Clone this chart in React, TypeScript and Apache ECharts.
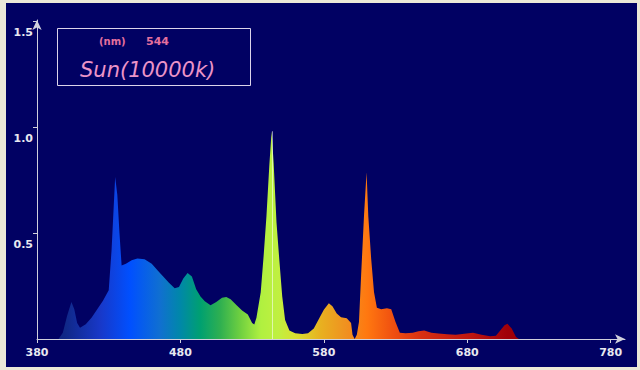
import React, { useEffect, useRef } from "react";
import * as echarts from "echarts";

// Wavelength samples (nm) and relative intensity
const wavelengths = [
  395, 398, 401, 404, 406, 408, 410, 414, 418, 422, 426, 430, 432, 434.5, 436, 437.5, 439,
  442, 446, 450, 455, 460, 464, 468, 472, 476, 479, 482, 485, 488, 491, 494, 497, 501, 505,
  509, 512, 515, 519, 523, 527, 530, 531.5, 533, 536, 538, 540, 542, 543.6, 545, 547, 549,
  551, 553, 556, 560, 565, 569, 573, 577, 580, 583.5, 586, 589, 592, 596, 599, 600, 601.5,
  603, 604.5, 606, 608, 609.8, 611, 613, 615, 617, 620, 624, 627, 630, 633, 637, 642, 646,
  650, 655, 660, 666, 672, 678, 684, 690, 696, 700, 703, 706, 708, 711, 714, 716,
];
const intensities = [
  0, 0.03, 0.11, 0.175, 0.14, 0.075, 0.053, 0.07, 0.1, 0.14, 0.18, 0.23, 0.42, 0.764, 0.68,
  0.5, 0.347, 0.355, 0.372, 0.38, 0.376, 0.355, 0.324, 0.295, 0.265, 0.24, 0.245, 0.285,
  0.311, 0.295, 0.235, 0.2, 0.178, 0.159, 0.175, 0.195, 0.198, 0.188, 0.16, 0.135, 0.115,
  0.075, 0.068, 0.1, 0.22, 0.39, 0.58, 0.82, 0.98, 0.83, 0.55, 0.37, 0.2, 0.09, 0.04, 0.027,
  0.024, 0.027, 0.05, 0.1, 0.138, 0.169, 0.155, 0.12, 0.103, 0.098, 0.075, 0.02, 0, 0.02,
  0.08, 0.3, 0.58, 0.787, 0.58, 0.38, 0.22, 0.148, 0.14, 0.145, 0.14, 0.08, 0.03, 0.027,
  0.03, 0.036, 0.04, 0.03, 0.026, 0.022, 0.02, 0.025, 0.03, 0.02, 0.013, 0.015, 0.04, 0.065,
  0.072, 0.05, 0.01, 0,
];
const xTicks = [380, 480, 580, 680, 780];
const yTicks = [0.5, 1.0, 1.5];
const xRange = [380, 790];
const yRange = [0, 1.505];
const cursorNm = 544;
const cursorValue = 0.98;
const legendUnit = "(nm)";
const legendValue = "544";
const legendTitle = "Sun(10000k)";
// Colour of the fill at each wavelength
const stopNm = [380, 400, 424, 445, 466, 480, 494, 508, 522, 536, 548, 560, 578, 596, 610, 628, 648, 680, 708, 790];
const stopColor = [
  "#0a1870", "#102888", "#1838c8", "#0050ff", "#1070d0", "#0088a8", "#00a070", "#30b050",
  "#70d040", "#b0f040", "#c0f040", "#d8e030", "#e8b020", "#f09020", "#ff7810", "#f05010",
  "#d83010", "#c01810", "#a00008", "#800000",
];

export default function App() {
  const ref = useRef<HTMLDivElement>(null);

  useEffect(() => {
    const chart = echarts.init(ref.current!, null, { renderer: "svg" });
    const W = 631;
    const grid = { left: 31, right: 12, top: 17, bottom: 28 };
    const gx0 = grid.left;
    const gx1 = W - grid.right;
    const span = xRange[1] - xRange[0];
    const gradient = new echarts.graphic.LinearGradient(
      gx0,
      0,
      gx1,
      0,
      stopNm.map((nm, i) => ({ offset: (nm - xRange[0]) / span, color: stopColor[i] })),
      true
    );
    const labelStyle = {
      color: "#e8e8f0",
      fontFamily: "DejaVu Sans",
      fontWeight: "bold" as const,
      fontSize: 11,
    };
    const axisLineStyle = { color: "#d0d0dc", width: 1 };

    chart.setOption({
      animation: false,
      backgroundColor: "#010163",
      grid: { ...grid, containLabel: false },
      xAxis: {
        type: "value",
        min: xRange[0],
        max: xRange[1],
        splitLine: { show: false },
        axisLine: { show: true, lineStyle: axisLineStyle, symbol: ["none", "arrow"], symbolSize: [7, 10] },
        axisTick: { show: true, length: 4, lineStyle: axisLineStyle, customValues: xTicks },
        axisLabel: { ...labelStyle, margin: 8, customValues: xTicks, formatter: (v: number) => String(v) },
      },
      yAxis: {
        type: "value",
        min: yRange[0],
        max: yRange[1],
        splitLine: { show: false },
        axisLine: { show: true, lineStyle: axisLineStyle, symbol: ["none", "arrow"], symbolSize: [7, 10] },
        axisTick: { show: true, length: 4, lineStyle: axisLineStyle, customValues: yTicks },
        axisLabel: {
          ...labelStyle,
          margin: 4,
          verticalAlign: "top",
          padding: [6, 0, 0, 0],
          customValues: yTicks,
          formatter: (v: number) => v.toFixed(1),
        },
      },
      series: [
        {
          type: "line",
          data: wavelengths.map((nm, i) => [nm, intensities[i]]),
          symbol: "none",
          lineStyle: { width: 0 },
          areaStyle: { color: gradient, opacity: 1 },
          silent: true,
          markLine: {
            silent: true,
            symbol: ["none", "none"],
            label: { show: false },
            lineStyle: { color: "rgba(255,255,255,0.55)", width: 1, type: "solid" },
            data: [[{ coord: [cursorNm, 0] }, { coord: [cursorNm, cursorValue] }]],
          },
        },
      ],
      graphic: [
        {
          type: "rect",
          shape: { x: 51.5, y: 25.5, width: 193, height: 57 },
          style: { fill: "none", stroke: "#dcd4ea", lineWidth: 1 },
          silent: true,
        },
        {
          type: "text",
          x: 93,
          y: 38,
          style: {
            text: legendUnit,
            fill: "#e4709e",
            font: "bold 10px 'DejaVu Sans'",
            verticalAlign: "middle",
          },
        },
        {
          type: "text",
          x: 140,
          y: 38,
          style: {
            text: legendValue,
            fill: "#e4709e",
            font: "bold 11px 'DejaVu Sans'",
            verticalAlign: "middle",
          },
        },
        {
          type: "text",
          x: 74,
          y: 67,
          style: {
            text: legendTitle,
            fill: "#ec94c8",
            font: "italic 200 21px 'DejaVu Sans'",
            verticalAlign: "middle",
          },
        },
      ],
    });
    return () => chart.dispose();
  }, []);

  return (
    <div style={{ position: "absolute", left: 0, top: 0, width: 640, height: 370, background: "#ece9d8" }}>
      <div
        ref={ref}
        style={{ position: "absolute", left: 6, top: 3, width: 631, height: 364, background: "#010163" }}
      />
    </div>
  );
}
